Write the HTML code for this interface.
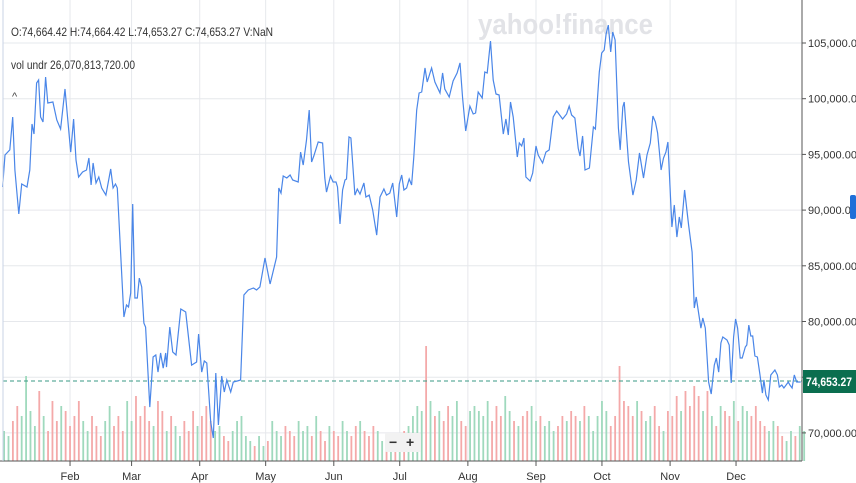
<!DOCTYPE html>
<html><head><meta charset="utf-8"><style>
body{margin:0;background:#fff;width:856px;height:483px;overflow:hidden;font-family:"Liberation Sans",sans-serif}
svg{display:block}
</style></head><body>
<svg id="chart" width="856" height="483" viewBox="0 0 856 483">
<g id="grid"></g>
<text x="478" y="34" font-size="29" font-weight="bold" fill="#e2e3e7" textLength="175" lengthAdjust="spacingAndGlyphs">yahoo!finance</text>
<g id="vol"></g>
<line x1="3" y1="381" x2="802" y2="381" stroke="#3a9a84" stroke-width="1" stroke-dasharray="4,3"/>
<path id="price" fill="none" stroke="#4a86e8" stroke-width="1.2"/>
<g id="axes"></g>
<text x="11" y="36" font-size="12" fill="#333" textLength="262" lengthAdjust="spacingAndGlyphs">O:74,664.42  H:74,664.42  L:74,653.27  C:74,653.27  V:NaN</text>
<text x="11" y="69" font-size="12" fill="#333" textLength="124" lengthAdjust="spacingAndGlyphs">vol undr  26,070,813,720.00</text>
<text x="12" y="100" font-size="11" fill="#444">^</text>
<g>
<rect x="385" y="433" width="36" height="19" fill="#f2f2f2" rx="2"/>
<text x="389" y="447" font-size="14" font-weight="bold" fill="#333">−</text>
<text x="406" y="447" font-size="14" font-weight="bold" fill="#333">+</text>
</g>
<rect x="803" y="370" width="53" height="23" fill="#0b6e4f"/>
<text x="806" y="386" font-size="11.5" font-weight="bold" fill="#fff" textLength="46" lengthAdjust="spacingAndGlyphs">74,653.27</text>
<rect x="850" y="195" width="6" height="24" fill="#1f6fd8" rx="2"/>
</svg>
<script>
const days=[0.3,1.4,3.6,4.9,5.9,7.7,9.0,11.4,12.7,13.7,14.6,15.8,16.7,17.6,18.7,19.9,20.9,23.2,25.0,26.7,28.7,31.3,32.6,33.7,34.9,36.7,38.5,39.6,40.6,41.5,42.8,44.1,45.4,47.3,49.5,50.6,51.7,52.5,55.5,56.7,57.6,58.6,59.5,60.5,61.6,62.5,63.6,64.6,65.4,67.3,68.8,70.0,71.0,72.2,73.4,74.5,74.9,76.4,77.7,79.2,81.4,83.6,86.3,88.6,89.5,90.9,92.1,93.2,95.0,96.2,97.3,98.5,100.0,101.2,102.3,104.1,105.3,107.1,108.6,110.1,112.1,114.4,115.9,117.4,119.7,122.0,125.0,126.0,127.0,128.0,129.6,131.1,132.3,134.8,135.9,137.1,138.6,139.8,140.9,141.9,143.9,145.9,146.9,147.7,149.5,150.7,152.0,152.7,153.8,155.0,156.1,156.8,157.9,158.8,160.6,161.7,162.9,164.7,165.6,167.1,168.7,170.5,172.0,173.8,175.0,176.5,177.8,179.6,180.8,181.9,182.9,184.1,185.3,186.4,187.4,188.7,189.8,191.0,192.5,193.5,195.5,197.0,199.3,200.5,201.5,203.5,205.3,207.1,208.4,209.6,211.0,212.9,214.4,215.5,216.7,218.5,219.7,220.8,222.3,223.5,224.8,226.2,228.1,229.3,230.4,231.4,232.6,234.5,235.4,236.5,237.5,238.4,240.3,241.5,243.0,244.0,246.0,247.5,249.0,250.8,252.4,255.1,256.9,258.1,259.2,260.7,262.2,263.0,264.2,265.3,267.3,269.1,270.0,271.8,272.9,274.0,274.9,275.9,277.0,277.9,279.0,280.5,281.3,282.5,283.1,285.1,287.1,288.6,290.1,291.9,293.5,295.0,296.2,297.3,298.3,299.9,301.0,302.1,303.0,304.8,305.9,307.1,308.2,309.1,310.6,312.4,314.0,315.0,315.9,318.0,318.9,320.0,321.5,322.7,324.1,325.0,326.1,327.1,328.0,329.9,330.9,331.8,332.9,333.8,334.7,335.9,336.8,338.2,338.9,339.8,340.7,341.6,342.6,343.7,344.9,346.0,346.7,347.6,348.7,349.8,351.7,352.8,353.7,354.8,355.8,357.8,358.5,359.5,360.5,361.6,363.4];
const prices=[92070,94950,95400,98360,93600,89650,92340,92070,93600,97730,96830,101410,101680,98360,97910,101950,99610,99700,98090,97280,100870,95210,98180,94500,92970,93420,93600,94680,92250,94230,92430,92970,91980,91350,93690,91980,92340,91980,80400,81480,81300,82560,90550,82110,82110,83900,83100,79860,79500,72320,76810,76990,75460,77170,75820,77170,75910,79500,77260,76990,81120,80850,76090,76360,78880,75460,76450,76270,70980,69540,75380,70710,75110,73670,74750,73670,74570,74660,74750,82380,82830,83010,82830,83100,85700,83370,85790,91980,91530,93060,92880,93150,92700,92520,95210,94050,96290,98990,94320,94860,96110,96020,92880,91620,93060,92520,92520,92070,88750,91800,92700,92790,96560,96470,91350,91890,91440,92430,91180,91350,90010,87760,91180,91890,91350,91530,92430,89380,92340,93150,91800,91980,92790,92250,94770,98990,100510,100600,102760,101500,102760,101500,100510,102310,100870,100150,101590,102310,103210,100060,97100,99340,98630,98720,100600,100060,102400,102310,105180,101680,100420,100330,96830,98180,96740,99700,98360,94770,96020,95750,96470,92970,92610,93330,95750,94950,94230,95210,95400,98360,98900,98180,98630,99340,98540,98270,95570,94860,96650,93600,93780,97460,97280,102400,104100,104370,105810,106610,104190,105990,105270,97370,95400,99250,99700,94320,91350,92700,95130,92880,94950,96020,98450,97910,96920,93600,94680,95210,96110,88480,90460,87580,89380,88390,91800,88660,86240,81210,82200,79410,80310,79410,74570,73490,76090,76720,75460,78070,78610,78340,77890,74480,78610,80220,79410,76720,76720,77710,77890,79680,78700,78700,76900,76810,75200,73580,74750,73400,72950,75200,75650,75200,74120,74300,74030,74570,74300,74030,75200,74570,74570];
const volumes=[30,25,40,55,45,85,50,35,70,45,30,60,40,55,50,35,45,60,40,30,45,35,25,40,55,35,45,30,60,40,65,45,55,40,35,60,50,30,45,35,25,40,30,50,35,45,55,40,30,35,25,20,30,40,45,25,20,15,25,15,20,40,30,25,35,30,25,40,30,35,25,45,30,20,35,30,25,40,30,25,35,40,30,25,35,30,20,25,15,25,20,30,35,45,55,50,115,60,45,50,40,55,45,60,40,35,50,55,50,45,60,40,55,45,65,50,40,35,45,50,55,40,45,35,40,30,35,45,40,50,45,40,55,45,30,45,60,50,35,45,95,60,55,45,60,50,40,45,55,35,30,50,45,65,50,70,55,75,65,50,70,45,35,55,50,45,60,40,55,50,45,55,40,35,30,40,35,25,20,30,25,35,30];
const yTicks=[70000,75000,80000,85000,90000,95000,100000,105000];
const yTickLabels=["70,000.00","75,000.00","80,000.00","85,000.00","90,000.00","95,000.00","100,000.00","105,000.00"];
const monthDays=[31,59,90,120,151,181,212,243,273,304,334];
const monthLabels=["Feb","Mar","Apr","May","Jun","Jul","Aug","Sep","Oct","Nov","Dec"];

const NS="http://www.w3.org/2000/svg";
const xS=d=>1.9+d*2.198;
const yS=v=>43+(105000-v)*55.7/5000;
const vS=v=>v*1.0;
function mk(tag,attrs,parent){const e=document.createElementNS(NS,tag);for(const k in attrs)e.setAttribute(k,attrs[k]);parent.appendChild(e);return e;}
const grid=document.getElementById('grid'),axes=document.getElementById('axes'),vol=document.getElementById('vol');
yTicks.forEach((t,i)=>{
  const y=yS(t);
  const l=mk('line',{x1:3,x2:802,y1:y,y2:y,stroke:'#e6e8ec','stroke-width':1},grid);
  
  
  const tk=mk('line',{x1:802,x2:806,y1:y,y2:y,stroke:'#555'},axes);
  
  
  const tx=mk('text',{x:808,y:y+4,'font-size':11,fill:'#333'},axes);
  tx.textContent=yTickLabels[i];
  
  
});
monthDays.forEach((d,i)=>{
  const x=xS(d);
  const l=mk('line',{x1:x,x2:x,y1:0,y2:461,stroke:'#e6e8ec','stroke-width':1},grid);
  
  
  const tk=mk('line',{x1:x,x2:x,y1:461,y2:466,stroke:'#555'},axes);
  
  
  const tx=mk('text',{x:x,y:480,'font-size':11,fill:'#333','text-anchor':'middle'},axes);
  tx.textContent=monthLabels[i];
  
  
});
const ax1=mk('line',{x1:802,x2:802,y1:0,y2:461,stroke:'#555'},axes);


const ax2=mk('line',{x1:0,x2:802,y1:461,y2:461,stroke:'#555'},axes);


const ax3=mk('line',{x1:3,x2:3,y1:0,y2:461,stroke:'#c8d3e6'},axes);


function priceAt(d){for(let i=1;i<days.length;i++){if(days[i]>=d){const t=(d-days[i-1])/(days[i]-days[i-1]);return prices[i-1]+t*(prices[i]-prices[i-1]);}}return prices[prices.length-1];}
volumes.forEach((v,i)=>{
  const d=i*2,x=xS(d+1);
  const up=priceAt(d+2)>=priceAt(d);
  const h=vS(v);
  const r=mk('rect',{x:x-0.9,y:461-h,width:1.8,height:h,fill:up?'#9fd9bd':'#f4a9a9'},vol);
  
  
});
document.getElementById('price').setAttribute('d',days.map((d,i)=>(i?'L':'M')+xS(d).toFixed(1)+','+yS(prices[i]).toFixed(1)).join(''));
</script>
</body></html>
